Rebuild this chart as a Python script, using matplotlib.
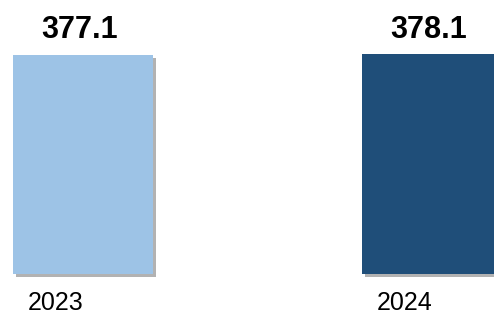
import numpy as np
import matplotlib
matplotlib.use("Agg")
import matplotlib.pyplot as plt
import matplotlib.patheffects as pe

# dados
anos = ["2023", "2024"]
valores = [377.1, 378.1]
cores = ["#9DC3E6", "#1F4E79"]

plt.rcParams['font.family'] = ['Liberation Sans', 'DejaVu Sans']

fig = plt.figure(figsize=(4.94, 3.14), dpi=100)
ax = fig.add_axes([0, 40 / 314, 1, 274 / 314])

x = np.arange(len(anos))
barras = ax.bar(x, valores, width=0.401, color=cores, clip_on=False)

# sombra leve
for b in barras:
    b.set_path_effects([pe.SimplePatchShadow(offset=(2.2, -2.2), shadow_rgbFace='#7f7f7f', alpha=0.6),
                        pe.Normal()])

# valores em cima
for xi, v in zip(x, valores):
    ax.annotate(f"{v:.1f}", (xi, v), xytext=(-2.5, 12), textcoords='offset points',
                ha='center', va='baseline', fontsize=22, fontweight='bold')

# anos embaixo
for xi, a in zip(x, anos):
    ax.annotate(a, (xi, 0), xytext=(-20, -26), textcoords='offset points',
                ha='center', va='baseline', fontsize=18, annotation_clip=False)

ax.set_xlim(-83 / 349, (494 - 83) / 349)
ax.set_ylim(0, 377.1 * 274 / 219)
ax.axis('off')

fig.savefig("out.png", dpi=100)
